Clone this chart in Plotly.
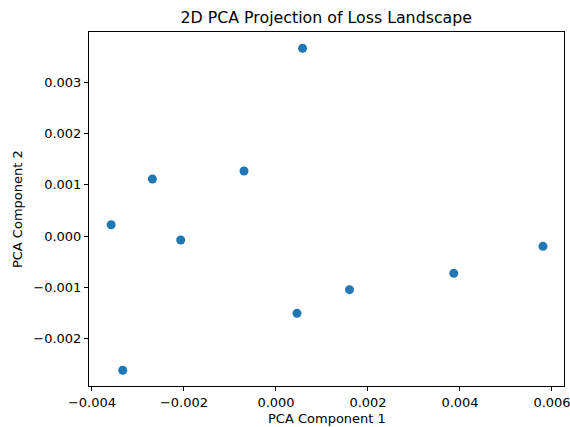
import plotly.graph_objects as go

pc1 = [0.000578, -0.002687, -0.000695, -0.003583, -0.002072, -0.003331, 0.001598, 0.000456, 0.003865, 0.005804]
pc2 = [0.003659, 0.001111, 0.001267, 0.000220, -0.000078, -0.002618, -0.001046, -0.001507, -0.000728, -0.000201]

title_text = "2D PCA Projection of Loss Landscape"
x_label = "PCA Component 1"
y_label = "PCA Component 2"

W, H = 570, 427
L, R, T, B = 88.5, 6, 32, 41
FS = 13.0

fig = go.Figure(go.Scatter(
    x=pc1, y=pc2, mode="markers",
    marker=dict(color="#1f77b4", size=9, line=dict(width=0)),
))

axis_common = dict(
    showgrid=False, zeroline=False, showline=True, mirror=True,
    linecolor="black", linewidth=1, ticks="outside", ticklen=4,
    tickwidth=1, tickcolor="black", automargin=False, ticklabeloverflow="allow",
    tickfont=dict(family="DejaVu Sans", size=FS, color="black"),
)

fig.update_layout(
    width=W, height=H,
    margin=dict(l=L, r=R, t=T, b=B, pad=0, autoexpand=False),
    paper_bgcolor="white", plot_bgcolor="white",
    font=dict(family="DejaVu Sans", color="black"),
    showlegend=False,
    title=dict(text=title_text, x=(L + (W - L - R) / 2) / W, xanchor="center",
               y=1 - 17 / H, yanchor="middle", yref="container",
               font=dict(family="DejaVu Sans", size=15.8, color="black")),
    xaxis=dict(range=[-0.004065, 0.006261], tickmode="linear", tick0=0, dtick=0.002,
               tickformat=".3f", **axis_common),
    yaxis=dict(range=[-0.002924, 0.003977], tickmode="linear", tick0=0, dtick=0.001,
               tickformat=".3f", **axis_common),
    annotations=[
        dict(text=x_label, xref="paper", yref="paper", x=0.5,
             y=-(418 - (H - B)) / (H - T - B), xanchor="center", yanchor="middle",
             showarrow=False, font=dict(family="DejaVu Sans", size=FS, color="black")),
        dict(text=y_label, xref="paper", yref="paper", x=-(L - 16.5) / (W - L - R),
             y=0.5, xanchor="center", yanchor="middle", textangle=-90,
             showarrow=False, font=dict(family="DejaVu Sans", size=FS, color="black")),
    ],
)

fig.write_html("out.html")
